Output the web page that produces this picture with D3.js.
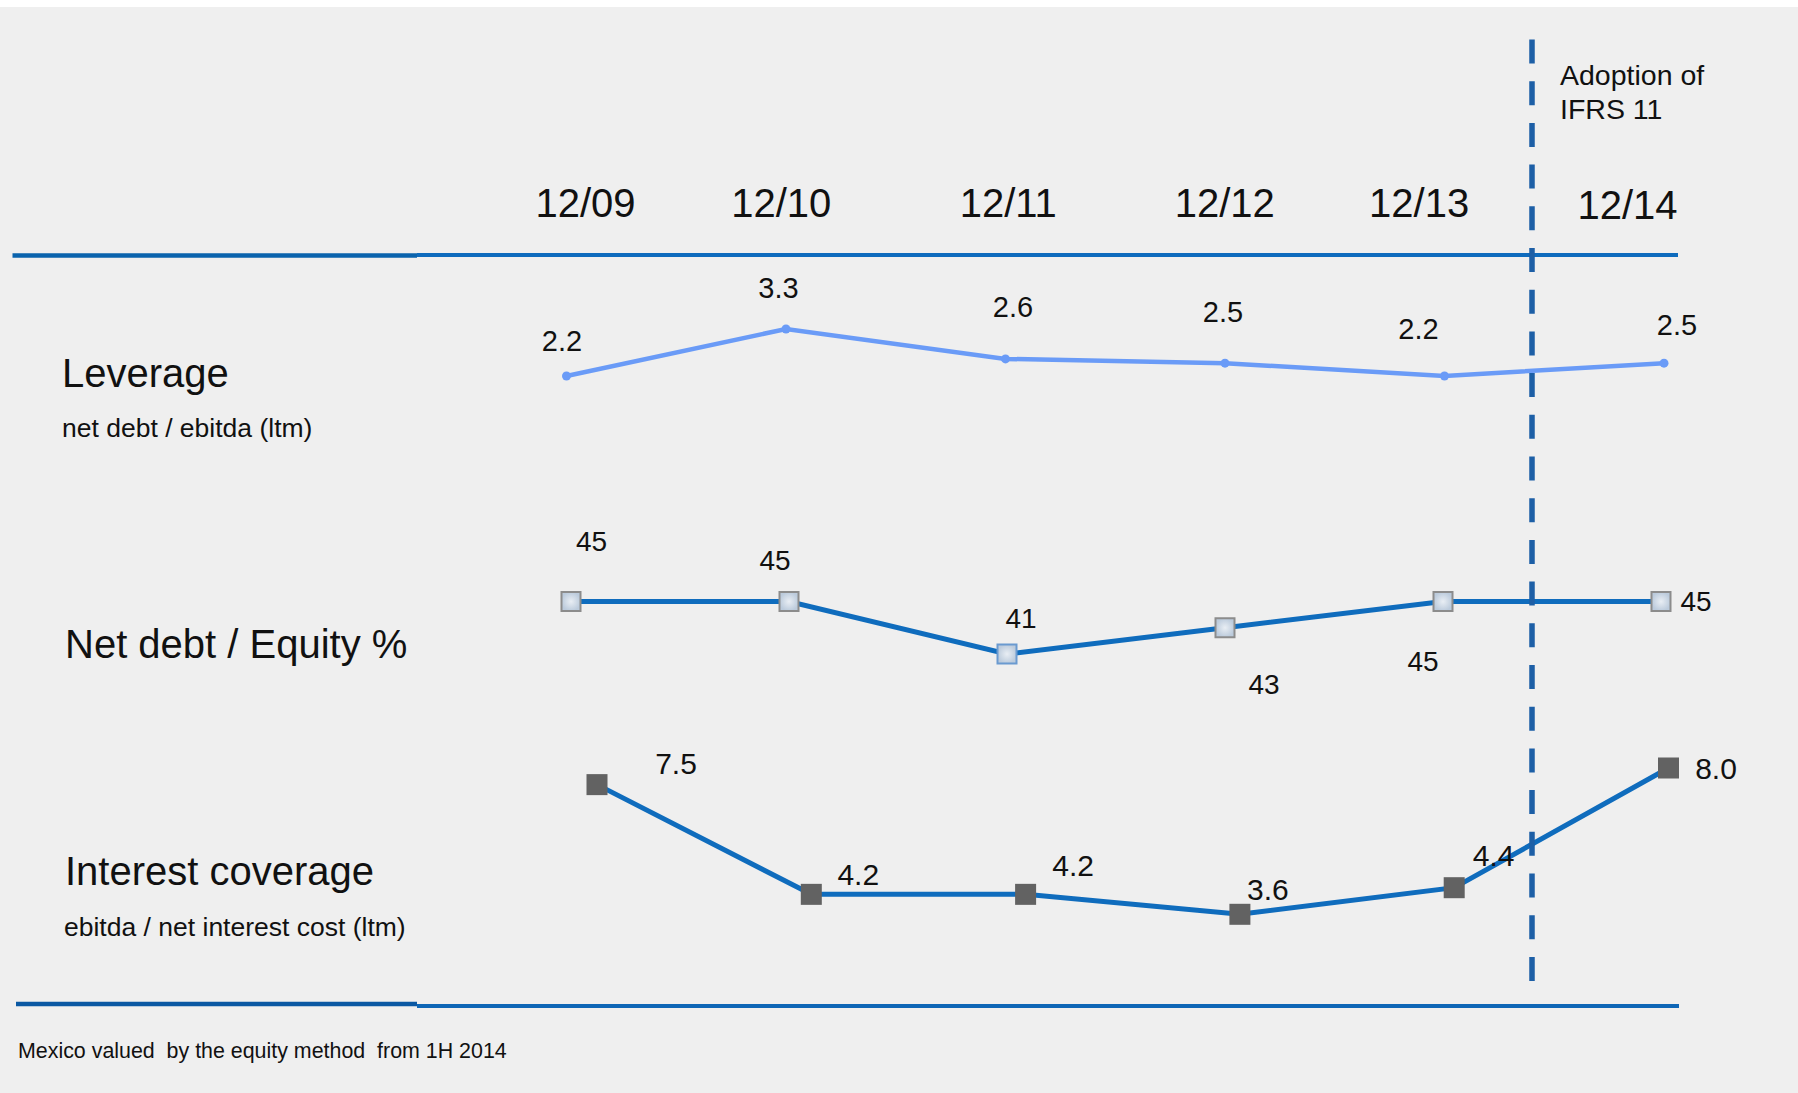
<!DOCTYPE html>
<html>
<head>
<meta charset="utf-8">
<script src="https://cdn.jsdelivr.net/npm/d3@7"></script>
<style>
  html, body { margin: 0; padding: 0; background: #ffffff; }
  svg { display: block; }
  text { font-family: "Liberation Sans", Arial, Helvetica, sans-serif; fill: #111; }
</style>
</head>
<body>
<div id="chart"></div>
<script>
// ---------------- data ----------------
const categories = ["12/09", "12/10", "12/11", "12/12", "12/13", "12/14"];
const leverage = [2.2, 3.3, 2.6, 2.5, 2.2, 2.5];
const netDebtEquity = [45, 45, 41, 43, 45, 45];
const interestCoverage = [7.5, 4.2, 4.2, 3.6, 4.4, 8.0];
const leverageLabels = ["2.2", "3.3", "2.6", "2.5", "2.2", "2.5"];
const netDebtLabels = ["45", "45", "41", "43", "45", "45"];
const coverageLabels = ["7.5", "4.2", "4.2", "3.6", "4.4", "8.0"];
const rowTitles = ["Leverage", "Net debt / Equity %", "Interest coverage"];
const rowSubtitles = ["net debt / ebitda (ltm)", "", "ebitda / net interest cost (ltm)"];
const annotationLines = ["Adoption of", "IFRS 11"];
const footnote = "Mexico valued  by the equity method  from 1H 2014";

// ---------------- layout (positions only) ----------------
const W = 1798, H = 1093;
const catLabelDx = [0, -12.7, 6, 14, 0, 0];
const levLabelOff = [[-4.5, -25], [-7.5, -31], [7.5, -42], [-2, -41.5], [-26, -37], [13, -28]];
const ndLabelOff = [[20.5, -51], [-14, -31.5], [14, -26], [39, 66.5], [-20, 69.5], [35, 9.5]];
const icLabelOff = [[79, -11], [47, -9], [47.5, -18.7], [28, -14.7], [39.5, -21.7], [47.5, 10.7]];

const svg = d3.select("#chart").append("svg")
  .attr("width", W).attr("height", H);

const defs = svg.append("defs");
const grad = defs.append("radialGradient").attr("id", "mk");
grad.append("stop").attr("offset", "0%").attr("stop-color", "#e9eef4");
grad.append("stop").attr("offset", "100%").attr("stop-color", "#bccbdc");

svg.append("rect").attr("width", W).attr("height", H).attr("fill", "#efefef");
svg.append("rect").attr("width", W).attr("height", 7).attr("fill", "#ffffff");

// ---------------- scales ----------------
const xCat = d3.scalePoint().domain(categories).range([585, 1627]);
const xLev = d3.scalePoint().domain(categories).range([566.5, 1664]);
const xNd = d3.scalePoint().domain(categories).range([571, 1661]);
const xIc = d3.scalePoint().domain(categories).range([597, 1668.5]);

const yLev = d3.scaleLinear().domain([2.2, 3.3]).range([376, 329]);
const yNd = d3.scaleLinear().domain([41, 45]).range([654, 601.5]);
const yIc = d3.scaleLinear().domain([3.6, 8.0]).range([914.3, 768]);

// ---------------- horizontal rules ----------------
svg.append("line").attr("x1", 12.5).attr("x2", 417).attr("y1", 255.5).attr("y2", 255.5)
  .attr("stroke", "#0a63ad").attr("stroke-width", 4.7);
svg.append("line").attr("x1", 417).attr("x2", 1678).attr("y1", 255).attr("y2", 255)
  .attr("stroke", "#0e6bbd").attr("stroke-width", 4);
svg.append("line").attr("x1", 16).attr("x2", 417).attr("y1", 1004).attr("y2", 1004)
  .attr("stroke", "#0a58a3").attr("stroke-width", 4.5);
svg.append("line").attr("x1", 417).attr("x2", 1679).attr("y1", 1006).attr("y2", 1006)
  .attr("stroke", "#0e66b6").attr("stroke-width", 4);

// ---------------- category axis ----------------
const axis = svg.append("g").attr("transform", "translate(0,217)")
  .call(d3.axisTop(xCat).tickSize(0).tickPadding(0));
axis.select(".domain").remove();
axis.selectAll(".tick text")
  .attr("y", 0).attr("dy", 0)
  .attr("dx", (d, i) => catLabelDx[i])
  .attr("font-size", 40)
  .attr("font-family", "Liberation Sans, Arial, sans-serif")
  .attr("fill", "#111");
axis.selectAll(".tick").filter((d, i) => i === 5).select("text").attr("y", 2);

// ---------------- row titles ----------------
const titleY = [386.5, 658, 884.5];
const titleX = [62, 65, 65];
svg.selectAll("text.title").data(rowTitles).join("text")
  .attr("class", "title")
  .attr("x", (d, i) => titleX[i]).attr("y", (d, i) => titleY[i])
  .attr("font-size", 40).text(d => d);
svg.selectAll("text.sub").data(rowSubtitles.filter(d => d)).join("text")
  .attr("class", "sub")
  .attr("x", (d, i) => [62, 64][i]).attr("y", (d, i) => [436.5, 935.5][i])
  .attr("font-size", 26.5).text(d => d);

// footnote
svg.append("text").attr("x", 18).attr("y", 1058).attr("font-size", 21.4)
  .style("white-space", "pre").text(footnote);

// annotation
svg.selectAll("text.anno").data(annotationLines).join("text")
  .attr("class", "anno")
  .attr("x", 1560).attr("y", (d, i) => 84.5 + i * 34.5)
  .attr("font-size", 28.5).text(d => d);

// ---------------- series lines ----------------
const levData = categories.map((c, i) => ({ c, v: leverage[i], l: leverageLabels[i], o: levLabelOff[i] }));
const ndData = categories.map((c, i) => ({ c, v: netDebtEquity[i], l: netDebtLabels[i], o: ndLabelOff[i] }));
const icData = categories.map((c, i) => ({ c, v: interestCoverage[i], l: coverageLabels[i], o: icLabelOff[i] }));

svg.append("path").datum(levData)
  .attr("fill", "none").attr("stroke", "#6a9bf7").attr("stroke-width", 4.5)
  .attr("d", d3.line().x(d => xLev(d.c)).y(d => yLev(d.v)));
svg.append("path").datum(ndData)
  .attr("fill", "none").attr("stroke", "#0f6cbd").attr("stroke-width", 5)
  .attr("d", d3.line().x(d => xNd(d.c)).y(d => yNd(d.v)));
svg.append("path").datum(icData)
  .attr("fill", "none").attr("stroke", "#0f6cbd").attr("stroke-width", 5)
  .attr("d", d3.line().x(d => xIc(d.c)).y(d => yIc(d.v)));

// ---------------- dashed divider ----------------
svg.append("line").attr("x1", 1532).attr("x2", 1532).attr("y1", 39.5).attr("y2", 987)
  .attr("stroke", "#1d5fa6").attr("stroke-width", 5.5).attr("stroke-dasharray", "24,17.7");

// ---------------- markers ----------------
svg.selectAll("circle.lev").data(levData).join("circle")
  .attr("class", "lev")
  .attr("cx", d => xLev(d.c)).attr("cy", d => yLev(d.v)).attr("r", 4.5)
  .attr("fill", "#6a9bf7");

const ndS = 19;
svg.selectAll("rect.nd").data(ndData).join("rect")
  .attr("class", "nd")
  .attr("x", d => xNd(d.c) - ndS / 2).attr("y", d => yNd(d.v) - ndS / 2)
  .attr("width", ndS).attr("height", ndS)
  .attr("fill", "url(#mk)").attr("stroke", (d, i) => i === 2 ? "#6a9ad0" : "#8c8c8c").attr("stroke-width", 2);

const icS = 21;
svg.selectAll("rect.ic").data(icData).join("rect")
  .attr("class", "ic")
  .attr("x", d => xIc(d.c) - icS / 2).attr("y", d => yIc(d.v) - icS / 2)
  .attr("width", icS).attr("height", icS)
  .attr("fill", "#626262");

// ---------------- value labels ----------------
svg.selectAll("text.levl").data(levData).join("text")
  .attr("class", "levl").attr("text-anchor", "middle").attr("font-size", 29)
  .attr("x", d => xLev(d.c) + d.o[0]).attr("y", d => yLev(d.v) + d.o[1]).text(d => d.l);
svg.selectAll("text.ndl").data(ndData).join("text")
  .attr("class", "ndl").attr("text-anchor", "middle").attr("font-size", 28)
  .attr("x", d => xNd(d.c) + d.o[0]).attr("y", d => yNd(d.v) + d.o[1]).text(d => d.l);
svg.selectAll("text.icl").data(icData).join("text")
  .attr("class", "icl").attr("text-anchor", "middle").attr("font-size", 30)
  .attr("x", d => xIc(d.c) + d.o[0]).attr("y", d => yIc(d.v) + d.o[1]).text(d => d.l);
</script>
</body>
</html>
